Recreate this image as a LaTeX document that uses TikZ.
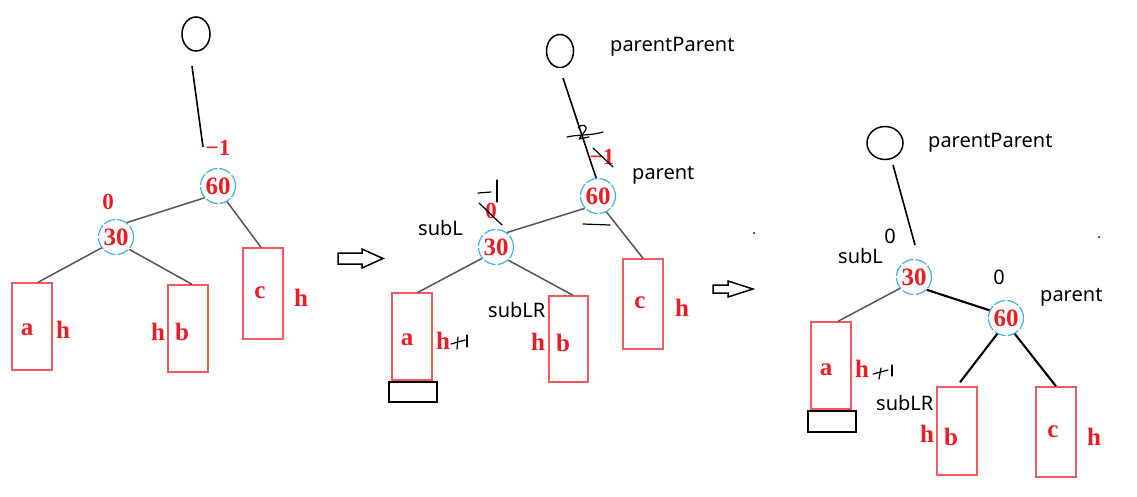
\documentclass[tikz,border=0pt]{standalone}
\usepackage{fontspec}
\newfontfamily\notosans{Noto Sans}
\newfontfamily\rserif{Liberation Serif}
\usetikzlibrary{shapes.geometric}
\definecolor{txtred}{RGB}{236,28,36}
\definecolor{boxred}{RGB}{240,90,90}
\definecolor{cblue}{RGB}{70,175,230}
\definecolor{edgegray}{RGB}{85,85,85}
\tikzset{
 treebox/.style={draw=boxred, line width=1.4pt, minimum width=40pt, inner sep=0pt},
 rtxt/.style={text=txtred, font=\rserif\bfseries\fontsize{25}{28}\selectfont, inner sep=0pt},
 bftxt/.style={text=txtred, font=\rserif\bfseries\fontsize{23}{26}\selectfont, inner sep=0pt},
 num/.style={circle, draw=cblue, dash pattern=on 12pt off 2pt, line width=1.2pt, minimum size=35pt, inner sep=0pt, text=txtred, font=\rserif\bfseries\fontsize{25}{28}\selectfont},
 topnode/.style={ellipse, draw=black, line width=1.5pt, inner sep=0pt},
 lbl/.style={font=\notosans\fontsize{20}{24}\selectfont, inner sep=0pt},
 treeline/.style={draw=edgegray, line width=1.5pt},
 bedge/.style={draw=black, line width=1.6pt},
 thickedge/.style={draw=black, line width=2.1pt},
 hand/.style={draw=black, line width=1.2pt, line cap=round, line join=round},
 blockarrow/.style={draw=black, line width=1.5pt, line join=miter},
 leafcap/.style={draw=black, line width=2pt, minimum width=48pt, minimum height=20pt, inner sep=0pt},
}
\begin{document}
\begin{tikzpicture}[x=1pt,y=-1pt]
\useasboundingbox (0,0) rectangle (1137,496);

% ---------------- Panel 1 ----------------
\node[topnode, minimum width=28pt, minimum height=34pt] (pp1) at (196,34) {};
\node[num] (p1n60) at (218,186) {60};
\node[num] (p1n30) at (116,237) {30};
\node[treebox, minimum height=87pt] (p1a) at (32,326.5) {};
\node[treebox, minimum height=87pt] (p1b) at (188,328.5) {};
\node[treebox, minimum height=91pt] (p1c) at (263,293.5) {};
\node[rtxt] (p1at) at (27,330) {a};
\node[rtxt] (p1ah) at (63,330) {h};
\node[rtxt] (p1bh) at (158,332) {h};
\node[rtxt] (p1bt) at (182,332) {b};
\node[rtxt] (p1ct) at (260,293) {c};
\node[rtxt] (p1ch) at (301,298) {h};
\node[bftxt] (p1bf30) at (108,202) {0};
\node[bftxt] (p1bf60) at (218,148) {−1};
\coordinate (p1ls) at (192,66);
\coordinate (p1le) at (203,147);
\draw[bedge] (p1ls) -- (p1le);
\draw[treeline] (p1n60.221) -- (p1n30.53);
\draw[treeline] (p1n60.300) -- ([xshift=-2pt]p1c.north);
\draw[treeline] (p1n30.217) -- ([xshift=6pt]p1a.north);
\draw[treeline] (p1n30.317) -- ([xshift=4pt]p1b.north);

% arrow 1
\draw[blockarrow] (338,253) -- (362,253) -- (362,249) -- (383,258.5) -- (362,268) -- (362,264) -- (338,264) -- cycle;

% ---------------- Panel 2 ----------------
\node[topnode, minimum width=27pt, minimum height=33pt] (pp2) at (560,51) {};
\node[lbl, anchor=west] (pp2l) at (610,47) {parentParent};
\node[num] (p2n60) at (598,196) {60};
\node[num] (p2n30) at (496,247) {30};
\node[lbl, anchor=west] (p2parl) at (632,175) {parent};
\node[lbl, anchor=west] (p2subl) at (418,228) {subL};
\node[lbl, anchor=west] (p2sublr) at (488,310) {subLR};
\node[treebox, minimum height=87pt] (p2a) at (412,336.5) {};
\node[treebox, minimum height=86pt, minimum width=39pt] (p2b) at (568.5,339) {};
\node[treebox, minimum height=90pt] (p2c) at (643,304) {};
\node[leafcap] (p2cap) at (413,392) {};
\node[rtxt] (p2at) at (407,340) {a};
\node[rtxt] (p2ah) at (443,341) {h};
\node[rtxt] (p2bh) at (538,342) {h};
\node[rtxt] (p2bt) at (563,343) {b};
\node[rtxt] (p2ct) at (640,303) {c};
\node[rtxt] (p2ch) at (682,308) {h};
\node[bftxt] (p2bf30) at (491,211) {0};
\node[bftxt] (p2bf60) at (602,157) {−1};
\coordinate (p2ls) at (563,78);
\draw[bedge] (p2ls) -- (p2n60.96);
\draw[treeline] (p2n60.223) -- (p2n30.53);
\draw[treeline] (p2n60.298) -- (p2c.north);
\draw[treeline] (p2n30.219) -- ([xshift=6pt]p2a.north);
\draw[treeline] (p2n30.313) -- ([xshift=4.5pt]p2b.north);
% hand-written corrections
\draw[hand] (567,137) .. controls (580,134) and (590,136) .. (603,132);
\draw[hand] (578,128) .. controls (581,123) and (589,125) .. (585,131) -- (579,139) -- (589,137);
\draw[hand] (593,148) -- (613,167);
\draw[hand] (478,193) -- (491,192);
\draw[hand] (497,180) -- (497,202);
\draw[hand] (479,203) -- (502,225);
\draw[hand] (583,224) -- (610,225);
\draw[hand] (451,344) -- (465,340);
\draw[hand] (458,337) -- (457,349);
\draw[hand] (467,335) -- (467,347);

% arrow 2
\draw[blockarrow] (713,285) -- (728,285) -- (728,281) -- (753,289) -- (728,297) -- (728,293) -- (713,293) -- cycle;
\fill (754,233) circle (1);

% ---------------- Panel 3 ----------------
\node[topnode, minimum width=36pt, minimum height=33pt] (pp3) at (885,143) {};
\node[lbl, anchor=west] (pp3l) at (928,143) {parentParent};
\node[num] (p3n30) at (914,277) {30};
\node[num] (p3n60) at (1006,318) {60};
\node[lbl] (p3bf30) at (890,236) {0};
\node[lbl] (p3bf60) at (999,277) {0};
\node[lbl, anchor=west] (p3subl) at (838,256) {subL};
\node[lbl, anchor=west] (p3parl) at (1040,297) {parent};
\node[lbl, anchor=west] (p3sublr) at (876,403) {subLR};
\node[treebox, minimum height=87pt] (p3a) at (831,365.5) {};
\node[treebox, minimum height=88pt] (p3b) at (957,431) {};
\node[treebox, minimum height=90pt] (p3c) at (1056,432) {};
\node[leafcap, minimum height=21pt] (p3cap) at (832,421.5) {};
\node[rtxt] (p3at) at (826,370) {a};
\node[rtxt] (p3ah) at (862,369) {h};
\node[rtxt] (p3bh) at (927,434) {h};
\node[rtxt] (p3bt) at (951,437) {b};
\node[rtxt] (p3ct) at (1053,432) {c};
\node[rtxt] (p3ch) at (1094,437) {h};
\coordinate (p3ls) at (893,165);
\coordinate (p3le) at (915,245);
\draw[bedge] (p3ls) -- (p3le);
\draw[thickedge] (p3n30.315) -- (p3n60.155);
\draw[treeline] (p3n30.219) -- ([xshift=7pt]p3a.north);
\draw[thickedge] (p3n60.241) -- ([xshift=3pt,yshift=4pt]p3b.north);
\draw[thickedge] (p3n60.299) -- (p3c.north);
\draw[hand] (873,374) -- (888,370);
\draw[hand] (881,368) -- (879,379);
\draw[hand] (892,365) -- (892,376);
\fill (1099,237) circle (1);
\end{tikzpicture}
\end{document}
